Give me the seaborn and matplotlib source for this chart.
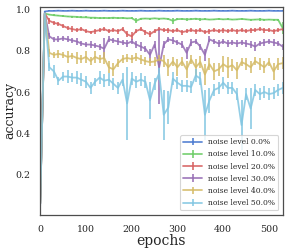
import numpy as np
import seaborn as sns
import matplotlib
matplotlib.use('Agg')
import matplotlib.pyplot as plt

# epochs (one point every 10 epochs)
epochs = np.arange(0, 531, 10)

labels = ['noise level 0.0%', 'noise level 10.0%', 'noise level 20.0%',
          'noise level 30.0%', 'noise level 40.0%', 'noise level 50.0%']

acc_0 = [0.06, 0.99, 0.993, 0.993, 0.994, 0.993, 0.993, 0.994, 0.993, 0.993,
         0.994, 0.993, 0.993, 0.993, 0.994, 0.993, 0.993, 0.993, 0.994, 0.993,
         0.993, 0.993, 0.994, 0.993, 0.993, 0.993, 0.994, 0.993, 0.993, 0.993,
         0.994, 0.993, 0.993, 0.993, 0.994, 0.993, 0.993, 0.993, 0.994, 0.993,
         0.993, 0.993, 0.994, 0.993, 0.993, 0.993, 0.994, 0.993, 0.993, 0.993,
         0.994, 0.993, 0.993, 0.993]
err_0 = [0.01] + [0.002] * 53

acc_10 = [0.06, 0.98, 0.975, 0.972, 0.97, 0.968, 0.966, 0.965, 0.964, 0.962,
          0.962, 0.96, 0.96, 0.958, 0.959, 0.958, 0.96, 0.958, 0.959, 0.957,
          0.958, 0.945, 0.955, 0.956, 0.955, 0.957, 0.955, 0.956, 0.954, 0.945,
          0.953, 0.954, 0.952, 0.953, 0.955, 0.952, 0.953, 0.951, 0.952, 0.954,
          0.952, 0.953, 0.951, 0.952, 0.954, 0.952, 0.95, 0.951, 0.952, 0.95,
          0.951, 0.95, 0.95, 0.91]
err_10 = [0.01, 0.005, 0.004, 0.004, 0.004, 0.004, 0.004, 0.004, 0.004, 0.004,
          0.004, 0.004, 0.004, 0.004, 0.006, 0.004, 0.004, 0.004, 0.004, 0.004,
          0.004, 0.012, 0.004, 0.004, 0.004, 0.004, 0.004, 0.004, 0.006, 0.015,
          0.004, 0.004, 0.006, 0.004, 0.004, 0.006, 0.004, 0.004, 0.004, 0.004,
          0.004, 0.004, 0.004, 0.004, 0.004, 0.004, 0.006, 0.004, 0.006, 0.006,
          0.004, 0.004, 0.006, 0.03]

acc_20 = [0.06, 0.98, 0.945, 0.935, 0.93, 0.92, 0.91, 0.905, 0.9, 0.905,
          0.895, 0.89, 0.895, 0.9, 0.905, 0.895, 0.9, 0.895, 0.905, 0.88,
          0.87, 0.895, 0.905, 0.89, 0.88, 0.895, 0.905, 0.9, 0.9, 0.895,
          0.9, 0.89, 0.895, 0.9, 0.895, 0.9, 0.89, 0.895, 0.9, 0.895,
          0.9, 0.895, 0.9, 0.895, 0.9, 0.895, 0.9, 0.9, 0.905, 0.9,
          0.9, 0.895, 0.9, 0.905]
err_20 = [0.01, 0.005, 0.015, 0.008, 0.008, 0.01, 0.008, 0.015, 0.01, 0.01,
          0.01, 0.008, 0.012, 0.008, 0.01, 0.008, 0.01, 0.012, 0.01, 0.015,
          0.02, 0.01, 0.008, 0.012, 0.015, 0.01, 0.008, 0.01, 0.012, 0.01,
          0.01, 0.012, 0.008, 0.01, 0.012, 0.008, 0.01, 0.012, 0.008, 0.01,
          0.012, 0.01, 0.008, 0.012, 0.01, 0.01, 0.012, 0.008, 0.01, 0.012,
          0.01, 0.012, 0.01, 0.01]

acc_30 = [0.06, 0.98, 0.87, 0.855, 0.855, 0.86, 0.855, 0.85, 0.845, 0.835,
          0.83, 0.83, 0.825, 0.82, 0.81, 0.855, 0.85, 0.845, 0.84, 0.835,
          0.845, 0.83, 0.82, 0.81, 0.78, 0.83, 0.72, 0.83, 0.855, 0.85,
          0.84, 0.83, 0.79, 0.84, 0.845, 0.82, 0.78, 0.855, 0.845, 0.835,
          0.845, 0.835, 0.84, 0.835, 0.84, 0.835, 0.83, 0.82, 0.835, 0.84,
          0.845, 0.84, 0.835, 0.82]
err_30 = [0.01, 0.005, 0.015, 0.012, 0.015, 0.012, 0.015, 0.012, 0.015, 0.012,
          0.012, 0.015, 0.012, 0.015, 0.05, 0.015, 0.012, 0.015, 0.012, 0.015,
          0.012, 0.015, 0.02, 0.015, 0.03, 0.015, 0.18, 0.015, 0.012, 0.015,
          0.012, 0.015, 0.03, 0.015, 0.012, 0.015, 0.03, 0.015, 0.012, 0.015,
          0.012, 0.015, 0.012, 0.015, 0.012, 0.015, 0.015, 0.02, 0.012, 0.015,
          0.012, 0.015, 0.012, 0.015]

acc_40 = [0.06, 0.98, 0.79, 0.78, 0.785, 0.78, 0.77, 0.775, 0.765, 0.76,
          0.77, 0.75, 0.77, 0.76, 0.765, 0.72, 0.71, 0.74, 0.76, 0.765,
          0.76, 0.768, 0.758, 0.75, 0.745, 0.748, 0.758, 0.75, 0.72, 0.748,
          0.72, 0.748, 0.71, 0.758, 0.72, 0.745, 0.685, 0.735, 0.70, 0.71,
          0.735, 0.72, 0.73, 0.705, 0.745, 0.735, 0.72, 0.75, 0.735, 0.72,
          0.745, 0.70, 0.735, 0.74]
err_40 = [0.01, 0.005, 0.02, 0.015, 0.02, 0.015, 0.03, 0.015, 0.03, 0.02,
          0.03, 0.02, 0.03, 0.02, 0.03, 0.03, 0.03, 0.02, 0.02, 0.02,
          0.02, 0.02, 0.02, 0.02, 0.02, 0.02, 0.02, 0.03, 0.04, 0.02,
          0.04, 0.02, 0.04, 0.02, 0.04, 0.03, 0.05, 0.03, 0.04, 0.03,
          0.04, 0.05, 0.03, 0.04, 0.02, 0.03, 0.03, 0.02, 0.03, 0.03,
          0.02, 0.04, 0.03, 0.03]

acc_50 = [0.05, 0.98, 0.72, 0.70, 0.655, 0.675, 0.675, 0.67, 0.67, 0.66,
          0.65, 0.62, 0.65, 0.67, 0.655, 0.66, 0.64, 0.62, 0.66, 0.545,
          0.665, 0.65, 0.66, 0.65, 0.56, 0.64, 0.69, 0.49, 0.525, 0.665,
          0.645, 0.63, 0.63, 0.625, 0.68, 0.665, 0.49, 0.56, 0.61, 0.62,
          0.645, 0.62, 0.62, 0.59, 0.44, 0.59, 0.52, 0.61, 0.59, 0.60,
          0.59, 0.595, 0.61, 0.62]
err_50 = [0.01, 0.005, 0.02, 0.03, 0.02, 0.02, 0.03, 0.02, 0.03, 0.03,
          0.03, 0.03, 0.02, 0.03, 0.03, 0.03, 0.03, 0.03, 0.03, 0.175,
          0.03, 0.03, 0.03, 0.03, 0.09, 0.03, 0.03, 0.12, 0.08, 0.03,
          0.03, 0.03, 0.03, 0.03, 0.03, 0.03, 0.12, 0.06, 0.03, 0.03,
          0.03, 0.03, 0.03, 0.03, 0.12, 0.03, 0.1, 0.03, 0.03, 0.03,
          0.03, 0.03, 0.03, 0.03]

accs = [acc_0, acc_10, acc_20, acc_30, acc_40, acc_50]
errs = [err_0, err_10, err_20, err_30, err_40, err_50]

sns.set_theme(style='white')
plt.rcParams['font.family'] = ['DejaVu Serif']
muted = sns.color_palette('muted')
colors = [muted[0], muted[2], muted[3], muted[4], muted[8], muted[9]]

fig = plt.figure(figsize=(2.87, 2.49), dpi=100)
ax = fig.add_axes([0.14, 0.137, 0.845, 0.835])

for acc, err, c, lab in zip(accs, errs, colors, labels):
    ax.errorbar(epochs, acc, yerr=err, color=c, lw=1.3, elinewidth=1.3,
                alpha=0.85, label=lab)

ax.set_xlim(0, 530)
ax.set_ylim(0.005, 1.012)
ax.set_xticks([0, 100, 200, 300, 400, 500])
ax.set_yticks([0.2, 0.4, 0.6, 0.8, 1.0])
ax.tick_params(labelsize=6.8, pad=1)
ax.set_xlabel('epochs', fontsize=10, labelpad=0)
ax.set_ylabel('accuracy', fontsize=9)
ax.yaxis.set_label_coords(-0.1, 0.5)
for s in ax.spines.values():
    s.set_color('0.3')
    s.set_linewidth(0.9)

leg = ax.legend(loc='lower right', fontsize=5.5, handlelength=2.4,
                borderaxespad=0.6, labelspacing=0.55, frameon=True)
leg.get_frame().set_edgecolor('0.8')
leg.get_frame().set_linewidth(0.8)

fig.savefig('out.png', dpi=100)
